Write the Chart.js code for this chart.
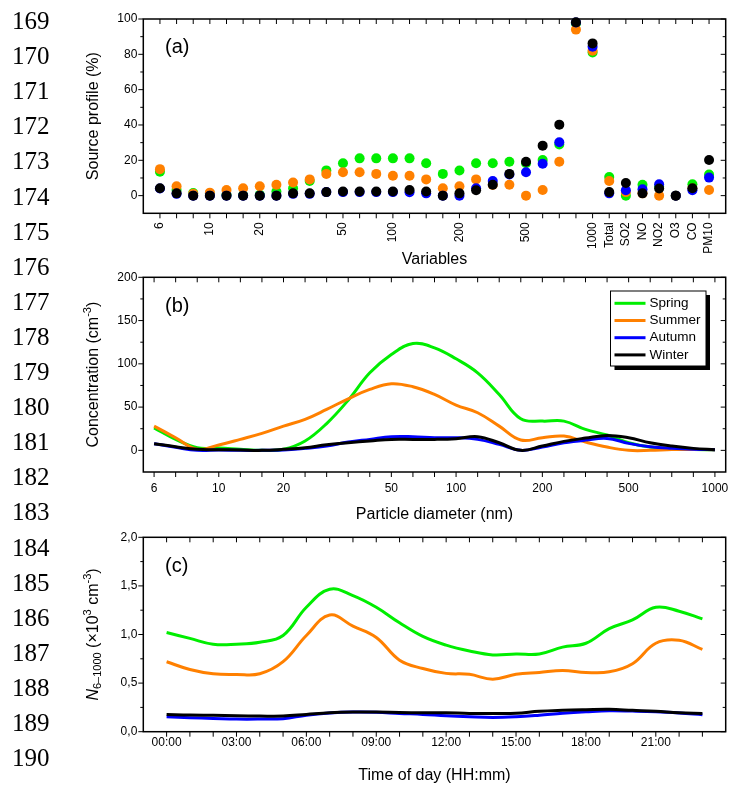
<!DOCTYPE html>
<html>
<head>
<meta charset="utf-8">
<script src="https://cdn.jsdelivr.net/npm/chart.js@4.4.1/dist/chart.umd.min.js"></script>
<style>
  html, body { margin: 0; padding: 0; background: #fff; }
  #page { position: relative; width: 731px; height: 785px; overflow: hidden; background: #fff; }
  .ln { position: absolute; left: 12px; font: 25px "Liberation Serif", "Times New Roman", serif; color: #000; line-height: 1; transform: translateY(-50%); }
  canvas { position: absolute; left: 0; }
</style>
</head>
<body>
<div id="page">
  <canvas id="cA" width="731" height="268" style="top:0px"></canvas>
  <canvas id="cB" width="731" height="262" style="top:268px"></canvas>
  <canvas id="cC" width="731" height="255" style="top:530px"></canvas>
</div>
<script>
// ---------------- data ----------------
// particle size bins (nm) and gaseous / bulk variables
const sizeBins = ['6','7','8','10','12','15','20','25','30','35','40','50','65','80','100','120','140','170','200','250','300','400','500','600','700','850','1000'];
const sizeTickLabels = ['6','10','20','50','100','200','500','1000'];
const gasVariables = ['Total','SO2','NO','NO2','O3','CO','PM10'];
const profileVariables = sizeBins.concat(gasVariables);
const profileTickLabels = sizeTickLabels.concat(gasVariables);
const seasons = ['Spring','Summer','Autumn','Winter'];

// (a) source profile (%)
const profileSpring = [13.5,3.2,1.5,1,0.5,0.3,0.5,2.3,4.2,8.3,14.3,18.3,21.1,21.1,21.1,21.1,18.3,12.3,14.2,18.3,18.3,19.2,18.3,20.2,29,97.5,81.1,10.6,0,6.2,5,0,6.4,11.9];
const profileSummer = [15,5.3,1,1.7,3.2,4.2,5.3,6.2,7.4,9.2,12.3,13.2,13.2,12.3,11.3,11.3,9.2,4.2,5.3,9.2,6,6.2,0,3.2,19.2,94,82,8.3,2,1.3,0,0,4,3.2];
const profileAutumn = [4,1,0,0,0,0,0,0,1,1,2,2,2,2,2,1.9,1.3,0,0,4.2,8.3,12,13.2,18.1,30.2,98,84.3,1.3,3,3.6,6.4,0,3,10.2];
const profileWinter = [4.2,1.3,0,0,0,0,0,0,1.3,1.3,2,2.3,2.3,2.3,2.3,3.2,2.3,0,1.3,3,6.2,12.3,19.2,28.3,40.2,98.1,86.2,2,7.2,1.3,4,0,4.2,20.2];

// (b) number size distribution (cm-3)
const psdSpring = [26,12.7,3,2.7,1.2,0,1.2,10.8,31,58,89.6,110.8,123.5,118.5,105.8,89.6,64.6,36.5,33.8,33.8,24.2,17.7,8.8,3.8,1.9,1,0.8];
const psdSummer = [28,14.6,1.2,6.2,12.7,19.6,28,35.8,47.3,59.6,70.4,77,73.5,64.6,52.3,43.5,28,11.9,14.6,16.5,9.6,3.8,0,0,1,1,0.8];
const psdAutumn = [7.7,3.5,0,0.3,0,0,0.3,2.3,5,9.6,12.7,15.8,15.8,14.6,14.6,12.7,6.9,0,3.8,8.8,11.9,13.8,8.1,4.2,2.3,1.2,0.8];
const psdWinter = [7.7,4.2,1.2,0.8,0.4,0,1.2,3,6.5,8.8,10.8,12.7,12.7,12.7,13.5,15.8,8.8,0,5,10.4,14.2,17.3,14.6,8.8,5,2.3,0.8];

// (c) diurnal cycle of N6-1000 (x10^3 cm-3)
const hours = [0,1,2,3,4,5,6,7,8,9,10,11,12,13,14,15,16,17,18,19,20,21,22,23];
const hourTickLabels = ['00:00','03:00','06:00','09:00','12:00','15:00','18:00','21:00'];
const diurnalSpring = [1.02,0.96,0.90,0.90,0.92,0.99,1.28,1.466,1.40,1.28,1.12,0.98,0.89,0.83,0.79,0.80,0.80,0.87,0.91,1.06,1.15,1.28,1.24,1.16];
const diurnalSummer = [0.72,0.64,0.596,0.589,0.596,0.72,0.99,1.20,1.086,0.97,0.736,0.65,0.60,0.59,0.54,0.59,0.61,0.63,0.61,0.616,0.70,0.91,0.94,0.846];
const diurnalAutumn = [0.154,0.144,0.137,0.13,0.13,0.134,0.17,0.192,0.202,0.2,0.188,0.178,0.164,0.154,0.147,0.154,0.17,0.19,0.205,0.216,0.212,0.205,0.192,0.175];
const diurnalWinter = [0.178,0.171,0.168,0.164,0.161,0.161,0.178,0.195,0.202,0.202,0.198,0.195,0.195,0.188,0.188,0.19,0.21,0.22,0.226,0.23,0.22,0.21,0.195,0.188];

// ---------------- styling ----------------
const FONT = '"Liberation Sans", Arial, Helvetica, sans-serif';
const COLORS = { Spring: '#00ee00', Summer: '#ff8000', Autumn: '#0000ff', Winter: '#000000' };
const DRAW_ORDER = { Spring: 4, Summer: 3, Autumn: 2, Winter: 1 };   // winter on top
Chart.defaults.font.family = FONT;
Chart.defaults.font.size = 12;
Chart.defaults.color = '#000';

// line numbers down the left margin
const page = document.getElementById('page');
for (let i = 0; i <= 21; i++) {
  const d = document.createElement('div');
  d.className = 'ln';
  d.style.top = (20 + 35.1 * i) + 'px';
  d.textContent = String(169 + i);
  page.appendChild(d);
}

// rich text (sub/superscripts, italics), optionally rotated
function drawRich(ctx, segs, x, y, rotate) {
  ctx.save();
  ctx.translate(x, y);
  if (rotate) ctx.rotate(-Math.PI / 2);
  const fontOf = s => `${s.italic ? 'italic ' : ''}${s.size}px ${FONT}`;
  let total = 0;
  const widths = segs.map(s => { ctx.font = fontOf(s); const w = ctx.measureText(s.t).width; total += w; return w; });
  let cx = -total / 2;
  ctx.textBaseline = 'middle';
  ctx.textAlign = 'left';
  ctx.fillStyle = '#000';
  segs.forEach((s, i) => { ctx.font = fontOf(s); ctx.fillText(s.t, cx, s.dy || 0); cx += widths[i]; });
  ctx.restore();
}

// Origin-style frame: outward ticks left/bottom, mirrored inward ticks top/right
const framePlugin = {
  id: 'frame',
  beforeDatasetsDraw(chart, args, o) {
    const { ctx, chartArea: a } = chart;
    const xs = chart.scales.x, ys = chart.scales.y;
    const MAJ = 5, MIN = 3;
    ctx.save();
    ctx.strokeStyle = '#000';
    ctx.lineWidth = 1;
    ctx.beginPath();
    const seg = (x1, y1, x2, y2) => { ctx.moveTo(x1, y1); ctx.lineTo(x2, y2); };
    const xt = (vals, len) => vals.forEach(v => { const p = xs.getPixelForValue(v); seg(p, a.bottom, p, a.bottom + len); seg(p, a.top, p, a.top + len); });
    const yt = (vals, len) => vals.forEach(v => { const p = ys.getPixelForValue(v); seg(a.left, p, a.left - len, p); seg(a.right, p, a.right - len, p); });
    xt(o.xMajor || [], MAJ); xt(o.xMinor || [], MIN);
    yt(o.yMajor || [], MAJ); yt(o.yMinor || [], MIN);
    ctx.stroke();
    ctx.lineWidth = 1.5;
    ctx.strokeRect(a.left, a.top, a.right - a.left, a.bottom - a.top);
    ctx.restore();
  },
  afterDraw(chart, args, o) {
    const { ctx, chartArea: a } = chart;
    const cx = (a.left + a.right) / 2, cy = (a.top + a.bottom) / 2;
    if (o.xTitle) drawRich(ctx, o.xTitle, cx, o.xTitleY, false);
    if (o.yTitle) drawRich(ctx, o.yTitle, o.yTitleX, cy, true);
    if (o.panel) {
      ctx.save();
      ctx.font = `20px ${FONT}`; ctx.fillStyle = '#000';
      ctx.textBaseline = 'middle'; ctx.textAlign = 'left';
      ctx.fillText(o.panel.text, o.panel.x, o.panel.y);
      ctx.restore();
    }
    if (o.legend) {
      const L = o.legend;
      ctx.save();
      ctx.fillStyle = '#000';
      ctx.fillRect(L.x + 4, L.y + 4, L.w, L.h);
      ctx.fillStyle = '#fff';
      ctx.fillRect(L.x, L.y, L.w, L.h);
      ctx.strokeStyle = '#000'; ctx.lineWidth = 1;
      ctx.strokeRect(L.x, L.y, L.w, L.h);
      ctx.font = `13.5px ${FONT}`; ctx.textBaseline = 'middle'; ctx.textAlign = 'left';
      chart.data.datasets.forEach((ds, i) => {
        const ry = L.y + L.first + i * L.step;
        ctx.strokeStyle = ds.borderColor; ctx.lineWidth = 3;
        ctx.beginPath(); ctx.moveTo(L.x + 4, ry); ctx.lineTo(L.x + 35, ry); ctx.stroke();
        ctx.fillStyle = '#000';
        ctx.fillText(ds.label, L.x + 39, ry);
      });
      ctx.restore();
    }
  }
};

const range = (a, b, s) => { const r = []; for (let v = a; v <= b + 1e-9; v += s) r.push(+v.toFixed(6)); return r; };
const fixTicks = vals => scale => { scale.ticks = vals.map(v => ({ value: v })); };
const fitY = w => s => { s.width = w; s.paddingTop = 0; s.paddingBottom = 0; };
const fitX = h => s => { s.height = h; s.paddingLeft = 0; s.paddingRight = 0; };
const noGrid = { display: false, drawTicks: false, tickLength: 0 };

function baseOptions(extra) {
  return Object.assign({
    responsive: false,
    animation: false,
    events: [],
    plugins: { legend: { display: false }, tooltip: { enabled: false } }
  }, extra);
}

// ---------------- (a) source profiles ----------------
const profileSeries = { Spring: profileSpring, Summer: profileSummer, Autumn: profileAutumn, Winter: profileWinter };
new Chart(document.getElementById('cA'), {
  type: 'scatter',
  data: {
    datasets: seasons.map(s => ({
      label: s,
      data: profileSeries[s].map((v, i) => ({ x: i, y: v })),
      backgroundColor: COLORS[s],
      borderWidth: 0,
      pointRadius: 5,
      order: DRAW_ORDER[s],
      clip: false
    }))
  },
  options: baseOptions({
    layout: { padding: { top: 19, right: 5.3, left: 0, bottom: 0 } },
    scales: {
      x: {
        type: 'linear', min: -1, max: profileVariables.length,
        grid: noGrid, border: { display: false },
        afterBuildTicks: fixTicks(profileTickLabels.map(l => profileVariables.indexOf(l))),
        afterFit: fitX(268 - 213.3),
        ticks: { minRotation: 90, maxRotation: 90, autoSkip: false, padding: 9,
                 callback: v => profileVariables[v] }
      },
      y: {
        min: -10, max: 100,
        grid: noGrid, border: { display: false },
        afterBuildTicks: fixTicks(range(0, 100, 20)),
        afterFit: fitY(143.3),
        ticks: { padding: 6, callback: v => String(v) }
      }
    },
    plugins: {
      legend: { display: false }, tooltip: { enabled: false },
      frame: {
        xMajor: profileVariables.map((_, i) => i),
        yMajor: range(0, 100, 20), yMinor: range(10, 90, 20),
        xTitle: [{ t: 'Variables', size: 16 }], xTitleY: 260,
        yTitle: [{ t: 'Source profile (%)', size: 16 }], yTitleX: 94,
        panel: { text: '(a)', x: 165, y: 47 }
      }
    }
  }),
  plugins: [framePlugin]
});

// ---------------- (b) size distributions ----------------
const psdSeries = { Spring: psdSpring, Summer: psdSummer, Autumn: psdAutumn, Winter: psdWinter };
new Chart(document.getElementById('cB'), {
  type: 'line',
  data: {
    datasets: seasons.map(s => ({
      label: s,
      data: psdSeries[s].map((v, i) => ({ x: i, y: v })),
      borderColor: COLORS[s],
      borderWidth: 3,
      pointRadius: 0,
      tension: 0.4,
      fill: false,
      order: DRAW_ORDER[s]
    }))
  },
  options: baseOptions({
    layout: { padding: { top: 9.3, right: 5.3, left: 0, bottom: 0 } },
    scales: {
      x: {
        type: 'linear', min: -0.5, max: sizeBins.length - 0.5,
        grid: noGrid, border: { display: false },
        afterBuildTicks: fixTicks(sizeTickLabels.map(l => sizeBins.indexOf(l))),
        afterFit: fitX(262 - 204),
        ticks: { maxRotation: 0, autoSkip: false, padding: 9, callback: v => sizeBins[v] }
      },
      y: {
        min: -25, max: 200,
        grid: noGrid, border: { display: false },
        afterBuildTicks: fixTicks(range(0, 200, 50)),
        afterFit: fitY(143.3),
        ticks: { padding: 6, callback: v => String(v) }
      }
    },
    plugins: {
      legend: { display: false }, tooltip: { enabled: false },
      frame: {
        xMajor: sizeBins.map((_, i) => i),
        yMajor: range(0, 200, 50), yMinor: range(25, 175, 50),
        xTitle: [{ t: 'Particle diameter (nm)', size: 16 }], xTitleY: 247,
        yTitle: [{ t: 'Concentration (cm', size: 16 }, { t: '-3', size: 11, dy: -6 }, { t: ')', size: 16 }], yTitleX: 94,
        panel: { text: '(b)', x: 165, y: 38.7 },
        legend: { x: 610.5, y: 23, w: 95.5, h: 75, first: 12.3, step: 17.2 }
      }
    }
  }),
  plugins: [framePlugin]
});

// ---------------- (c) diurnal cycle ----------------
const diurnalSeries = { Spring: diurnalSpring, Summer: diurnalSummer, Autumn: diurnalAutumn, Winter: diurnalWinter };
new Chart(document.getElementById('cC'), {
  type: 'line',
  data: {
    datasets: seasons.map(s => ({
      label: s,
      data: diurnalSeries[s].map((v, i) => ({ x: hours[i], y: v })),
      borderColor: COLORS[s],
      borderWidth: 3,
      pointRadius: 0,
      tension: 0.4,
      fill: false,
      order: DRAW_ORDER[s]
    }))
  },
  options: baseOptions({
    layout: { padding: { top: 7.3, right: 5.3, left: 0, bottom: 0 } },
    scales: {
      x: {
        type: 'linear', min: -1, max: 24,
        grid: noGrid, border: { display: false },
        afterBuildTicks: fixTicks(hourTickLabels.map(l => parseInt(l, 10))),
        afterFit: fitX(255 - 201.7),
        ticks: { maxRotation: 0, autoSkip: false, padding: 4,
                 callback: v => hourTickLabels.find(l => parseInt(l, 10) === v) }
      },
      y: {
        min: 0, max: 2,
        grid: noGrid, border: { display: false },
        afterBuildTicks: fixTicks(range(0, 2, 0.5)),
        afterFit: fitY(143.3),
        ticks: { padding: 6, callback: v => v.toFixed(1).replace('.', ',') }
      }
    },
    plugins: {
      legend: { display: false }, tooltip: { enabled: false },
      frame: {
        xMajor: hours,
        yMajor: range(0, 2, 0.5), yMinor: range(0.25, 1.75, 0.5),
        xTitle: [{ t: 'Time of day (HH:mm)', size: 16 }], xTitleY: 246,
        yTitle: [{ t: 'N', size: 16, italic: true }, { t: '6\u20131000', size: 11, dy: 4 },
                 { t: ' (\u00d710', size: 16 }, { t: '3', size: 11, dy: -6 },
                 { t: ' cm', size: 16 }, { t: '-3', size: 11, dy: -6 }, { t: ')', size: 16 }],
        yTitleX: 94,
        panel: { text: '(c)', x: 165, y: 36.7 }
      }
    }
  }),
  plugins: [framePlugin]
});
</script>
</body>
</html>
